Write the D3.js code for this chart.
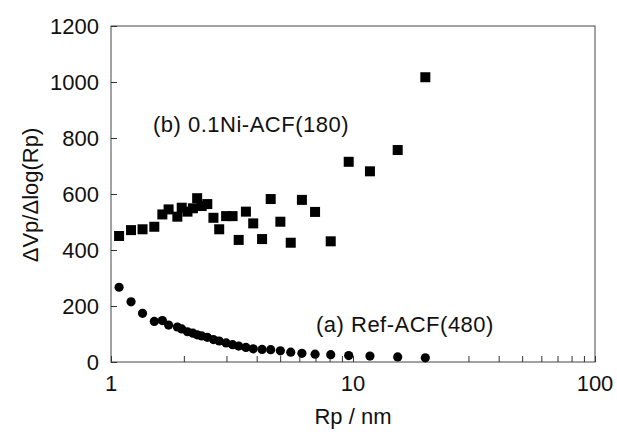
<!DOCTYPE html>
<html>
<head>
<meta charset="utf-8">
<script src="https://cdn.jsdelivr.net/npm/d3@7"></script>
<style>
  body { margin: 0; background: #fff; }
  text { font-family: "Liberation Sans", Arial, sans-serif; fill: #111; }
  .axis path, .axis line { stroke: #333; }
</style>
</head>
<body>
<div id="chart"></div>
<script>
// pore radius (nm), shared by both series
var rp = [1.08, 1.21, 1.35, 1.51, 1.63, 1.73, 1.88, 1.96, 2.07, 2.18, 2.27, 2.37, 2.50, 2.65, 2.80,
          2.99, 3.18, 3.37, 3.61, 3.87, 4.21, 4.57, 5.01, 5.53, 6.15, 6.97, 8.09, 9.60, 11.75, 15.3, 19.9];
// (b) 0.1Ni-ACF(180)
var niACF = [450, 471, 474, 483, 527, 545, 519, 551, 537, 549, 585, 557, 564, 515, 474,
             521, 521, 436, 537, 495, 439, 582, 501, 426, 579, 536, 431, 715, 681, 757, 1017];
// (a) Ref-ACF(480)
var refACF = [267, 215, 174, 145, 148, 132, 125, 118, 108, 103, 97, 93, 88, 80, 75,
              68, 62, 57, 52, 47, 45, 44, 40, 35, 31, 28, 26, 23, 21, 18, 15];
var yTicks = [0, 200, 400, 600, 800, 1000, 1200];
var xTicks = [1, 10, 100];

var width = 617, height = 432;
var margin = {left: 111, right: 22, top: 26, bottom: 70};
var w = width - margin.left - margin.right,
    h = height - margin.top - margin.bottom;

var svg = d3.select('#chart').append('svg')
    .attr('width', width)
    .attr('height', height);

var g = svg.append('g')
    .attr('transform', 'translate(' + margin.left + ',' + margin.top + ')');

var x = d3.scaleLog().domain([1, 100]).range([0, w]);
var y = d3.scaleLinear().domain([0, 1200]).range([h, 0]);

// frame
g.append('rect')
    .attr('width', w).attr('height', h)
    .attr('fill', 'none').attr('stroke', '#444').attr('stroke-width', 1);

// bottom axis, ticks point inward
var minor = [];
for (var d = 1; d <= 100; d *= 10) {
  for (var k = 1; k < 10 && d * k <= 100; k++) minor.push(d * k);
}
var xAxis = g.append('g').attr('class', 'axis')
    .attr('transform', 'translate(0,' + h + ')')
    .call(d3.axisBottom(x).tickValues(minor).tickSize(-6).tickFormat(''));
xAxis.select('.domain').remove();

g.selectAll('.xlab')
  .data(xTicks)
  .enter().append('text')
    .attr('x', function(v) { return x(v); })
    .attr('y', h + 29)
    .attr('text-anchor', 'middle')
    .style('font-size', '22px')
    .text(function(v) { return v; });

// left axis
var yAxis = g.append('g').attr('class', 'axis')
    .call(d3.axisLeft(y).tickValues(yTicks).tickSize(-6).tickFormat(''));
yAxis.select('.domain').remove();

g.selectAll('.ylab')
  .data(yTicks)
  .enter().append('text')
    .attr('x', -12)
    .attr('y', function(v) { return y(v) + 8; })
    .attr('text-anchor', 'end')
    .style('font-size', '22px')
    .text(function(v) { return v; });

// axis titles
svg.append('text')
    .attr('transform', 'translate(38,195) rotate(-90)')
    .attr('text-anchor', 'middle')
    .style('font-size', '22px')
    .text('\u0394Vp/\u0394log(Rp)');

svg.append('text')
    .attr('x', margin.left + x(10))
    .attr('y', 424)
    .attr('text-anchor', 'middle')
    .style('font-size', '22px')
    .text('Rp / nm');

// squares: (b)
var sq = 10;
g.selectAll('.sq')
  .data(niACF)
  .enter().append('rect')
    .attr('x', function(v, i) { return x(rp[i]) - sq / 2; })
    .attr('y', function(v) { return y(v) - sq / 2; })
    .attr('width', sq).attr('height', sq)
    .attr('fill', '#000');

// circles: (a)
g.selectAll('.dot')
  .data(refACF)
  .enter().append('circle')
    .attr('cx', function(v, i) { return x(rp[i]); })
    .attr('cy', function(v) { return y(v); })
    .attr('r', 4.6)
    .attr('fill', '#000');

// series labels
svg.append('text')
    .attr('x', 153).attr('y', 132)
    .style('font-size', '22px')
    .style('letter-spacing', '0.5px')
    .text('(b) 0.1Ni-ACF(180)');

svg.append('text')
    .attr('x', 316).attr('y', 332)
    .style('font-size', '22px')
    .style('letter-spacing', '0.5px')
    .text('(a) Ref-ACF(480)');
</script>
</body>
</html>
